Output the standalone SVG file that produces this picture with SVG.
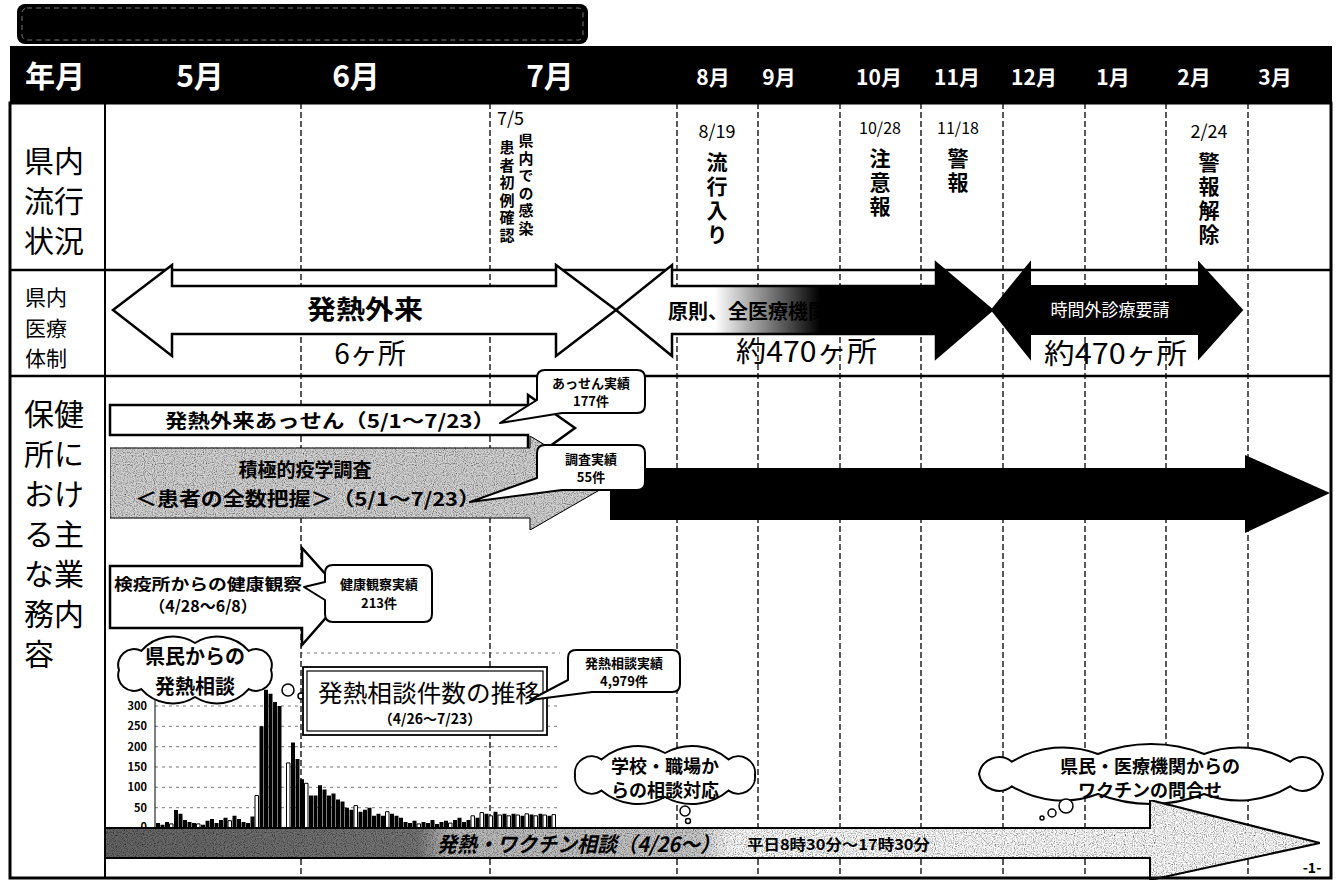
<svg xmlns="http://www.w3.org/2000/svg" width="1337" height="883" viewBox="0 0 1337 883">
<defs>
<style>
.jp{font-family:"Noto Sans CJK JP","Noto Sans",sans-serif}
.b{font-weight:700}
.w{fill:#fff}
.vt{writing-mode:vertical-rl}
.dash{stroke:#000;stroke-width:1.3;stroke-dasharray:6 3;fill:none}
.grid{stroke:#555;stroke-width:0.8;stroke-dasharray:3 4;fill:none}
.wa{fill:#fff;stroke:#000;stroke-width:2.5;stroke-linejoin:miter}
.call{fill:#fff;stroke:#000;stroke-width:2;stroke-linejoin:round}
.cloud{fill:#fff;stroke:#000;stroke-width:2}
.bub{fill:#fff;stroke:#000;stroke-width:1.5}
.ctr{text-anchor:middle}
</style>
<linearGradient id="fade" gradientUnits="userSpaceOnUse" x1="715" y1="0" x2="820" y2="0">
<stop offset="0" stop-color="#fff"/><stop offset="1" stop-color="#000"/>
</linearGradient>
<linearGradient id="bottomfade" gradientUnits="userSpaceOnUse" x1="105" y1="0" x2="730" y2="0">
<stop offset="0" stop-color="#666"/><stop offset="0.5" stop-color="#777"/><stop offset="0.55" stop-color="#bbb"/><stop offset="0.95" stop-color="#ccc"/><stop offset="1" stop-color="#fff"/>
</linearGradient>
<filter id="grain" x="0" y="0" width="100%" height="100%">
<feTurbulence type="fractalNoise" baseFrequency="0.9" numOctaves="1" seed="4" result="t"/>
<feColorMatrix in="t" type="matrix" values="0 0 0 0 0 0 0 0 0 0 0 0 0 0 0 2.2 0 0 0 -0.9" result="m"/>
<feComposite in="m" in2="SourceGraphic" operator="in" result="s"/>
<feMerge><feMergeNode in="SourceGraphic"/><feMergeNode in="s"/></feMerge>
</filter>
</defs>
<rect width="1337" height="883" fill="#fff"/>

<g id="title">
<rect x="17" y="4" width="571" height="40" rx="8" fill="#000"/>
<rect x="22" y="8" width="561" height="32" rx="5" fill="none" stroke="#777" stroke-width="1" stroke-dasharray="5 4"/>
</g>

<g id="header">
<rect x="10" y="46" width="1322" height="57" fill="#000"/>
<g class="jp b w" font-size="30">
<text x="25" y="87">年月</text>
<text x="200" y="87" class="ctr">5月</text>
<text x="356" y="87" class="ctr">6月</text>
<text x="550" y="87" class="ctr">7月</text>
</g>
<g class="jp b w ctr" font-size="21">
<text x="713" y="85">8月</text>
<text x="779" y="85">9月</text>
<text x="879" y="85">10月</text>
<text x="957" y="85">11月</text>
<text x="1034" y="85">12月</text>
<text x="1113" y="85">1月</text>
<text x="1194" y="85">2月</text>
<text x="1275" y="85">3月</text>
</g>
</g>

<g id="grid-lines">
<g class="dash">
<line x1="301" y1="103" x2="301" y2="878"/>
<line x1="490" y1="103" x2="490" y2="878"/>
<line x1="677" y1="103" x2="677" y2="878"/>
<line x1="758" y1="103" x2="758" y2="878"/>
<line x1="840" y1="103" x2="840" y2="878"/>
<line x1="921" y1="103" x2="921" y2="878"/>
<line x1="1003" y1="103" x2="1003" y2="878"/>
<line x1="1085" y1="103" x2="1085" y2="878"/>
<line x1="1166" y1="103" x2="1166" y2="878"/>
<line x1="1248" y1="103" x2="1248" y2="878"/>
</g>
<line x1="105" y1="103" x2="105" y2="878" stroke="#000" stroke-width="2"/>
<line x1="10" y1="270" x2="1331" y2="270" stroke="#000" stroke-width="2.5"/>
<line x1="10" y1="376" x2="1331" y2="376" stroke="#000" stroke-width="2.5"/>
</g>

<g id="row-labels" class="jp">
<text font-size="30"><tspan x="24" y="172">県内</tspan><tspan x="24" y="212">流行</tspan><tspan x="24" y="252">状況</tspan></text>
<text font-size="21"><tspan x="25" y="305">県内</tspan><tspan x="25" y="336">医療</tspan><tspan x="25" y="366">体制</tspan></text>
<text font-size="30"><tspan x="24" y="425">保健</tspan><tspan x="24" y="465">所に</tspan><tspan x="24" y="505">おけ</tspan><tspan x="24" y="545">る主</tspan><tspan x="24" y="585">な業</tspan><tspan x="24" y="625">務内</tspan><tspan x="24" y="665">容</tspan></text>
</g>

<g id="events" class="jp">
<text x="497" y="125" font-size="18">7/5</text>
<text x="526" y="133" class="b vt" font-size="15" letter-spacing="2.5">県内での感染</text>
<text x="507" y="140" class="b vt" font-size="15" letter-spacing="2.5">患者初例確認</text>
<text x="717" y="138" font-size="18" class="ctr">8/19</text>
<text x="717" y="152" class="b vt" font-size="21" letter-spacing="3">流行入り</text>
<text x="880" y="134" font-size="16" class="ctr">10/28</text>
<text x="880" y="148" class="b vt" font-size="21" letter-spacing="3">注意報</text>
<text x="958" y="134" font-size="16" class="ctr">11/18</text>
<text x="958" y="148" class="b vt" font-size="21" letter-spacing="3">警報</text>
<text x="1209" y="138" font-size="18" class="ctr">2/24</text>
<text x="1209" y="152" class="b vt" font-size="21" letter-spacing="3">警報解除</text>
</g>

<g id="fever-clinic">
<path class="wa" d="M113 310 L172 265 L172 286 L556 286 L556 265 L616 310 L556 356 L556 334 L172 334 L172 356 Z"/>
<text x="365" y="319" class="jp b ctr" font-size="26" textLength="116" lengthAdjust="spacingAndGlyphs">発熱外来</text>
<text x="370" y="364" class="jp ctr" font-size="28">6ヶ所</text>
</g>

<g id="all-clinics">
<path d="M616 310 L672 265 L672 286 L936 286 L936 263 L992 310 L936 358 L936 334 L672 334 L672 356 Z" fill="url(#fade)" stroke="#000" stroke-width="2.5"/>
<text x="668" y="319" class="jp b" font-size="20">原則、全医療機関</text>
<text x="736" y="362" class="jp" font-size="28" textLength="141" lengthAdjust="spacingAndGlyphs">約470ヶ所</text>
</g>

<g id="after-hours">
<path d="M992 310 L1030 263 L1030 286 L1199 286 L1199 263 L1242 310 L1199 358 L1199 334 L1030 334 L1030 358 Z" fill="#000" stroke="#000" stroke-width="2"/>
<text x="1110" y="316" class="jp w ctr" font-size="17">時間外診療要請</text>
<text x="1044" y="364" class="jp" font-size="28" textLength="143" lengthAdjust="spacingAndGlyphs">約470ヶ所</text>
</g>

<g id="assen">
<path class="wa" d="M110 405 L528 405 L528 395 L575 428 L528 462 L528 435 L110 435 Z"/>
<text x="165" y="428" class="jp b" font-size="19" textLength="330" lengthAdjust="spacingAndGlyphs">発熱外来あっせん（5/1～7/23）</text>
</g>

<g id="epi-survey">
<path d="M110 448 L530 448 L530 436 L610 484 L530 530 L530 518 L110 518 Z" fill="#d4d4d4" stroke="#000" stroke-width="1" filter="url(#grain)"/>
<text class="jp b" font-size="19"><tspan x="305" y="477" text-anchor="middle">積極的疫学調査</tspan><tspan x="135" y="506" textLength="345" lengthAdjust="spacingAndGlyphs">＜患者の全数把握＞（5/1～7/23）</tspan></text>
</g>

<g id="epi-continue">
<path d="M610 468 L1245 468 L1245 455 L1330 493 L1245 533 L1245 520 L610 520 Z" fill="#000"/>
</g>

<g id="callout-assen">
<path class="call" d="M545 370 H637 Q645 370 645 378 V405 Q645 413 637 413 H562 L500 423 L537 400 V378 Q537 370 545 370 Z"/>
<text class="jp b ctr" font-size="13"><tspan x="591" y="388">あっせん実績</tspan><tspan x="591" y="406">177件</tspan></text>
</g>

<g id="callout-survey">
<path class="call" d="M545 445 H637 Q645 445 645 453 V482 Q645 490 637 490 H562 L470 502 L537 478 V453 Q537 445 545 445 Z"/>
<text class="jp b ctr" font-size="13"><tspan x="591" y="464">調査実績</tspan><tspan x="591" y="482">55件</tspan></text>
</g>

<g id="quarantine">
<path class="wa" d="M110 566 L302 566 L302 548 L345 596 L302 645 L302 628 L110 628 Z"/>
<text class="jp b" font-size="16"><tspan x="114" y="590" textLength="188" lengthAdjust="spacingAndGlyphs">検疫所からの健康観察</tspan><tspan x="203" y="612" text-anchor="middle">（4/28～6/8）</tspan></text>
</g>

<g id="callout-health">
<path class="call" d="M333 565 H424 Q432 565 432 573 V614 Q432 622 424 622 H333 Q325 622 325 614 V600 L304 587 L325 582 V573 Q325 565 333 565 Z"/>
<text class="jp b ctr" font-size="13"><tspan x="379" y="589">健康観察実績</tspan><tspan x="379" y="608">213件</tspan></text>
</g>

<g id="chart">
<g class="grid">
<line x1="300" y1="653" x2="560" y2="653"/>
<line x1="155" y1="706" x2="560" y2="706"/>
<line x1="155" y1="726.3" x2="560" y2="726.3"/>
<line x1="155" y1="746.7" x2="560" y2="746.7"/>
<line x1="155" y1="767" x2="560" y2="767"/>
<line x1="155" y1="787.3" x2="560" y2="787.3"/>
<line x1="155" y1="807.7" x2="560" y2="807.7"/>
</g>
<line x1="155" y1="700" x2="155" y2="828" stroke="#000" stroke-width="1"/>
<text class="jp b" font-size="11" text-anchor="end"><tspan x="147" y="710">300</tspan><tspan x="147" y="730">250</tspan><tspan x="147" y="751">200</tspan><tspan x="147" y="771">150</tspan><tspan x="147" y="791">100</tspan><tspan x="147" y="812">50</tspan><tspan x="147" y="831">0</tspan></text>
<path fill="#000" d="M156 828v-4.9h4V828Z M160.5 828v-3.3h4V828Z M165 828v-6.1h4V828Z M174 828v-17.9h4V828Z M178.5 828v-14.2h4V828Z M183 828v-8.1h4V828Z M187.5 828v-6.1h4V828Z M192 828v-4.9h4V828Z M201 828v-3.3h4V828Z M205.5 828v-7.3h4V828Z M210 828v-8.9h4V828Z M214.5 828v-4.9h4V828Z M219 828v-8.1h4V828Z M223.5 828v-10.2h4V828Z M232.5 828v-12.2h4V828Z M237 828v-8.9h4V828Z M241.5 828v-6.1h4V828Z M246 828v-4.9h4V828Z M250.5 828v-11.4h4V828Z M259.5 828v-101.7h4V828Z M264 828v-138.3h4V828Z M268.5 828v-134.2h4V828Z M273 828v-126.1h4V828Z M277.5 828v-122h4V828Z M291 828v-85.4h4V828Z M295.5 828v-69.1h4V828Z M300 828v-48.8h4V828Z M309 828v-32.5h4V828Z M313.5 828v-32.5h4V828Z M318 828v-42.7h4V828Z M322.5 828v-38.6h4V828Z M327 828v-32.5h4V828Z M331.5 828v-34.6h4V828Z M336 828v-28.5h4V828Z M340.5 828v-26.4h4V828Z M345 828v-20.3h4V828Z M349.5 828v-18.3h4V828Z M358.5 828v-16.3h4V828Z M363 828v-18.3h4V828Z M367.5 828v-20.3h4V828Z M372 828v-12.2h4V828Z M376.5 828v-14.2h4V828Z M381 828v-12.2h4V828Z M390 828v-14.2h4V828Z M394.5 828v-12.2h4V828Z M399 828v-10.2h4V828Z M403.5 828v-6.1h4V828Z M408 828v-4.9h4V828Z M412.5 828v-7.3h4V828Z M421.5 828v-6.1h4V828Z M426 828v-4.9h4V828Z M430.5 828v-8.1h4V828Z M435 828v-4.1h4V828Z M439.5 828v-6.1h4V828Z M444 828v-7.3h4V828Z M453 828v-8.1h4V828Z M457.5 828v-10.2h4V828Z M462 828v-6.1h4V828Z M466.5 828v-8.1h4V828Z M475.5 828v-10.2h4V828Z M484.5 828v-14.2h4V828Z M493.5 828v-16.3h4V828Z M502.5 828v-14.2h4V828Z M511.5 828v-14.2h4V828Z M520.5 828v-12.2h4V828Z M529.5 828v-13.4h4V828Z M538.5 828v-14.2h4V828Z M547.5 828v-12.2h4V828Z"/>
<path fill="#fff" stroke="#000" stroke-width="1" d="M169.5 828v-4.1h3.5V828 M196.5 828v-4.1h3.5V828 M228 828v-7.3h3.5V828 M255 828v-32.5h3.5V828 M286.5 828v-65.1h3.5V828 M304.5 828v-44.7h3.5V828 M354 828v-22.4h3.5V828 M385.5 828v-16.3h3.5V828 M417 828v-4.1h3.5V828 M448.5 828v-4.9h3.5V828 M471 828v-12.2h3.5V828 M480 828v-15.5h3.5V828 M489 828v-12.2h3.5V828 M498 828v-13h3.5V828 M507 828v-12.2h3.5V828 M516 828v-13h3.5V828 M525 828v-14.2h3.5V828 M534 828v-12.2h3.5V828 M543 828v-13h3.5V828 M552 828v-13.4h3.5V828"/>
</g>

<g id="cloud-citizens">
<path class="cloud" d="M271 670 A15.8 15.8 0 0 1 248.7 689.1 A41.9 41.9 0 0 1 195 697 A41.9 41.9 0 0 1 141.3 689.1 A15.8 15.8 0 0 1 119 670 A15.8 15.8 0 0 1 141.3 650.9 A41.9 41.9 0 0 1 195 643 A41.9 41.9 0 0 1 248.7 650.9 A15.8 15.8 0 0 1 271 670 Z"/>
<text class="jp b ctr" font-size="20"><tspan x="195" y="664">県民からの</tspan><tspan x="195" y="694">発熱相談</tspan></text>
<circle class="bub" cx="288" cy="690" r="6"/>
<circle class="bub" cx="301" cy="696" r="3"/>
</g>

<g id="trend-box">
<rect x="303" y="667" width="244" height="68" fill="#fff" stroke="#000" stroke-width="1.8"/>
<rect x="307" y="671" width="236" height="60" fill="none" stroke="#000" stroke-width="1.2"/>
<text class="jp"><tspan x="318" y="702" font-size="24" textLength="222" lengthAdjust="spacingAndGlyphs">発熱相談件数の推移</tspan><tspan x="430" y="724" font-size="14" font-weight="700" text-anchor="middle">（4/26～7/23）</tspan></text>
</g>

<g id="callout-consult">
<path class="call" d="M576 650 H672 Q680 650 680 658 V684 Q680 692 672 692 H592 L530 700 L568 680 V658 Q568 650 576 650 Z"/>
<text class="jp b ctr" font-size="13"><tspan x="624" y="668">発熱相談実績</tspan><tspan x="624" y="686">4,979件</tspan></text>
</g>

<g id="cloud-school">
<path class="cloud" d="M755 775 A16.8 16.8 0 0 1 728.6 790.6 A56 56 0 0 1 665 797 A56 56 0 0 1 601.4 790.6 A16.8 16.8 0 0 1 575 775 A16.8 16.8 0 0 1 601.4 759.4 A56 56 0 0 1 665 753 A56 56 0 0 1 728.6 759.4 A16.8 16.8 0 0 1 755 775 Z"/>
<text class="jp b ctr" font-size="18"><tspan x="665" y="773">学校・職場か</tspan><tspan x="665" y="797">らの相談対応</tspan></text>
<circle class="bub" cx="685" cy="811" r="5"/>
<circle class="bub" cx="688" cy="821" r="2.5"/>
</g>

<g id="cloud-vaccine">
<path class="cloud" d="M1323 774 A20.4 20.4 0 0 1 1290.1 786.3 A98 98 0 0 1 1204.1 794 A146 146 0 0 1 1097.9 794 A98 98 0 0 1 1011.9 786.3 A20.4 20.4 0 0 1 979 774 A20.4 20.4 0 0 1 1011.9 761.7 A98 98 0 0 1 1097.9 754 A146 146 0 0 1 1204.1 754 A98 98 0 0 1 1290.1 761.7 A20.4 20.4 0 0 1 1323 774 Z"/>
<text class="jp b ctr" font-size="18"><tspan x="1150" y="773">県民・医療機関からの</tspan><tspan x="1150" y="797">ワクチンの問合せ</tspan></text>
<circle class="bub" cx="1066" cy="806" r="7"/>
<circle class="bub" cx="1052" cy="813" r="4"/>
<circle class="bub" cx="1042" cy="818" r="2"/>
</g>

<g id="hotline">
<path d="M105 828 L1150 828 L1150 800 L1320 843 L1150 880 L1150 858 L105 858 Z" fill="url(#bottomfade)" stroke="#000" stroke-width="2" filter="url(#grain)"/>
<text x="437" y="852" class="jp b" font-size="21" font-style="italic" textLength="283" lengthAdjust="spacingAndGlyphs">発熱・ワクチン相談（4/26～）</text>
<text x="747" y="850" class="jp b" font-size="15" textLength="183" lengthAdjust="spacingAndGlyphs">平日8時30分～17時30分</text>
</g>

<text x="1312" y="873" class="jp b ctr" font-size="14">-1-</text>

<rect x="10" y="103" width="1321" height="775" fill="none" stroke="#000" stroke-width="3"/>
</svg>
